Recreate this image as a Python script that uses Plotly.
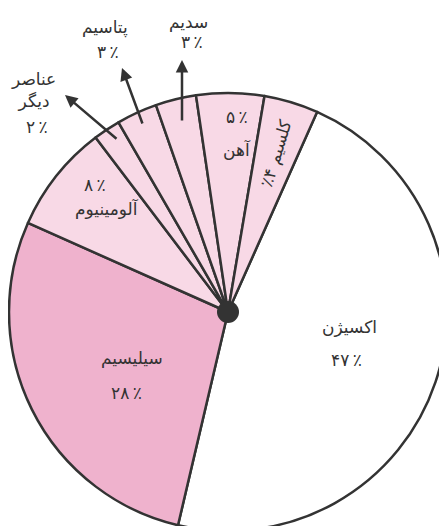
import plotly.graph_objects as go

# composition of the earth's crust (percent)
elements = ['اکسیژن', 'سیلیسیم', 'آلومینیوم', 'عناصر دیگر', 'پتاسیم', 'سدیم', 'آهن', 'کلسیم']
percents = [47, 28, 8, 2, 3, 3, 5, 4]

slice_colors = ['#ffffff', '#efb2cd', '#f8d9e6', '#f8d9e6', '#f8d9e6', '#f8d9e6', '#f8d9e6', '#f8d9e6']
ink = '#333333'

OFF = 8                # default body margin of the written page
FW, FH = 439, 530      # figure size; bottom of the pie runs off the window like the original
CX, CY, R = 228, 312, 219  # pie centre and radius, px in the window

FA_DIGITS = str.maketrans('0123456789', '۰۱۲۳۴۵۶۷۸۹')


def fa(n):
    return str(n).translate(FA_DIGITS)


def paper(x, y):
    # window px -> paper coords
    return (x - OFF) / FW, 1 - (y - OFF) / FH


# label placement in window px (name line, percent line)
name_pos = [(349, 327), (132, 358), (107, 208), (33, 90), (105, 28), (188, 23), (237, 150), None]
pct_pos = [(346, 360), (126, 393), (95, 185), (37, 127), (108, 52), (192, 42), (237, 117), None]
# arrows for the thin slices: tip, tail
arrows = {3: ((65, 95), (118, 140)), 4: ((122, 68), (143, 125)), 5: ((182, 60), (182, 122))}

x0, y1 = paper(CX - R, CY - R)
x1, y0 = paper(CX + R, CY + R)

fig = go.Figure()
fig.add_trace(go.Pie(
    labels=elements, values=percents,
    sort=False, direction='clockwise', rotation=24,
    marker=dict(colors=slice_colors, line=dict(color=ink, width=2.5)),
    textinfo='none', hoverinfo='label+percent',
    domain=dict(x=[x0, x1], y=[y0, y1]),
))

font = dict(family='DejaVu Sans', size=17, color=ink)
annotations = []


def label(pos, text, **kw):
    x, y = paper(*pos)
    annotations.append(dict(x=x, y=y, xref='paper', yref='paper', showarrow=False,
                            xanchor='center', yanchor='middle', text=text, font=font, **kw))


for i, name in enumerate(elements):
    if name_pos[i] is None:
        continue
    label(name_pos[i], name.replace(' ', '<br>'))
    label(pct_pos[i], fa(percents[i]) + '\u2009٪')

# calcium label runs along its slice
label((276, 153), '٪' + fa(percents[7]) + ' ' + elements[7], textangle=-73)

for i, (tip, tail) in arrows.items():
    tx, ty = paper(*tip)
    annotations.append(dict(x=tx, y=ty, xref='paper', yref='paper', text='',
                            showarrow=True, arrowhead=2, arrowsize=1, arrowwidth=2.5,
                            arrowcolor=ink, ax=tail[0] - tip[0], ay=tail[1] - tip[1]))

dx0, dy1 = paper(CX - 11, CY - 11)
dx1, dy0 = paper(CX + 11, CY + 11)

fig.update_layout(
    width=FW, height=FH,
    margin=dict(l=0, r=0, t=0, b=0),
    paper_bgcolor='white',
    showlegend=False,
    annotations=annotations,
    shapes=[dict(type='circle', xref='paper', yref='paper', layer='above',
                 x0=dx0, x1=dx1, y0=dy0, y1=dy1,
                 fillcolor=ink, line=dict(width=0))],
)

fig.write_html("out.html")
